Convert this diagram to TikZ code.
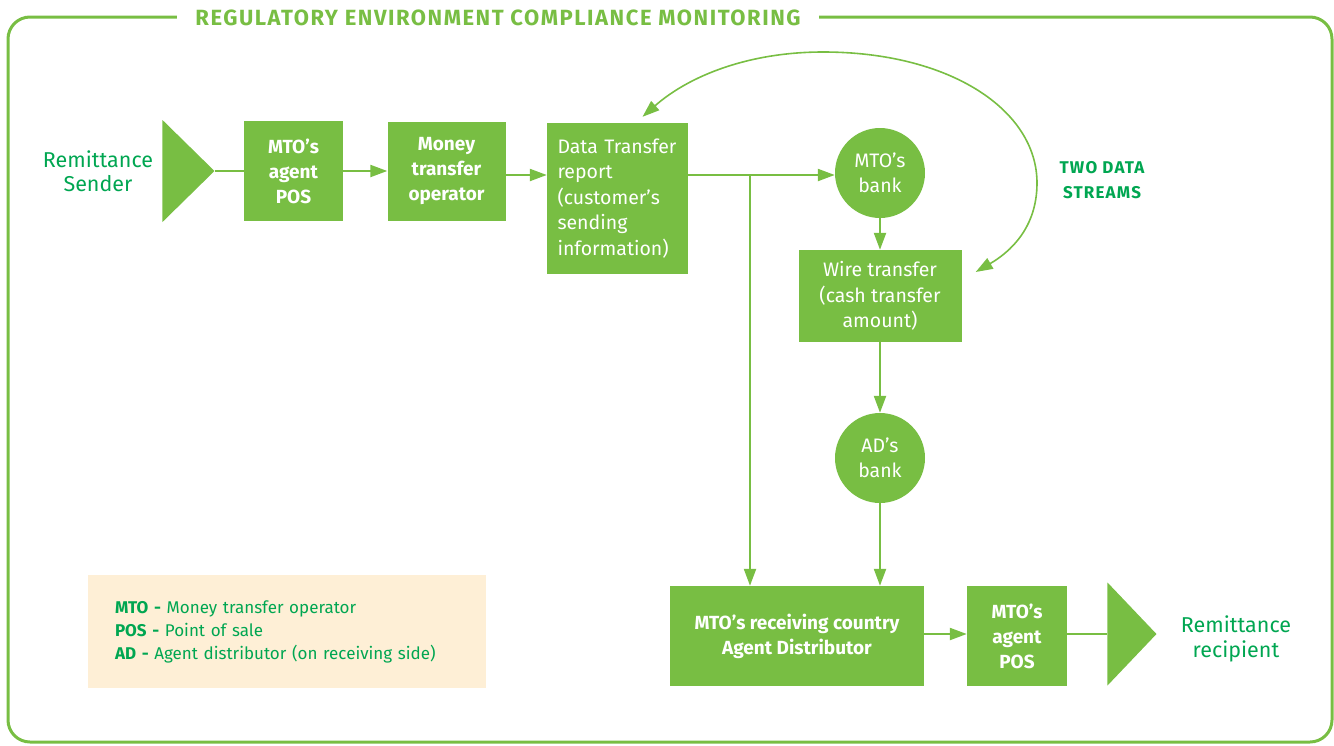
\documentclass[tikz,border=0pt]{standalone}
\usepackage{fontspec}
\setmainfont{Fira Sans}
\newfontfamily\headfont{Fira Sans}[LetterSpace=7]
\usetikzlibrary{positioning,shapes.geometric,arrows.meta}
\definecolor{mtogreen}{HTML}{78BE43}
\definecolor{darkgreen}{HTML}{00A651}
\definecolor{keycream}{HTML}{FEEFD6}

\begin{document}
\begin{tikzpicture}[x=1pt,y=-1pt,node distance=150pt,on grid,
  >={Triangle[length=17pt,width=12pt]},
  box/.style={fill=mtogreen,text=white,align=center,inner sep=0pt,
    font=\fontsize{19.5}{25.5}\selectfont},
  boldbox/.style={box,font=\bfseries\fontsize{19}{25}\selectfont},
  bank/.style={circle,fill=mtogreen,text=white,align=center,inner sep=0pt,
    minimum size=90pt,font=\fontsize{19.5}{25}\selectfont},
  arrowtri/.style={isosceles triangle,isosceles triangle stretches,
    fill=mtogreen,inner sep=0pt,minimum height=52pt,minimum width=102pt},
  sidetext/.style={text=darkgreen,align=center,font=\fontsize{21.5}{24.5}\selectfont},
  flow/.style={draw=mtogreen,line width=2.2pt,->},
  loopflow/.style={draw=mtogreen,line width=1.6pt,<->},
  frameline/.style={draw=mtogreen,line width=3pt,rounded corners=22pt}]
\useasboundingbox (0,0) rectangle (1334,745);

% frame and heading
\draw[frameline] (8,17) rectangle (1332,742);
\node[fill=white,inner xsep=18pt,text=mtogreen,font=\headfont\bfseries\fontsize{22}{24}\selectfont]
  (heading) at (498,18) {REGULATORY ENVIRONMENT COMPLIANCE MONITORING};

% sending side
\node[sidetext] (sender) at (98,171) {Remittance\\Sender};
\node[arrowtri,anchor=apex] (sendtri) at (215,171) {};
\node[boldbox,minimum width=99pt,minimum height=100pt]
  (agentA) at (293.5,171) {MTO’s\\agent\\POS};
\node[boldbox,minimum width=118pt,minimum height=99pt]
  (operator) [right=153pt of agentA] {Money\\transfer\\operator};
\node[box,align=left,text width=120pt,minimum width=141pt,minimum height=151pt]
  (datarep) at (617.5,198.5) {Data Transfer\\report\\(customer’s\\sending\\information)};

% banks
\node[bank] (mtobank) at (880,173) {MTO’s\\bank};
\node[box,minimum width=163pt,minimum height=92pt] (wire) [below=123pt of mtobank]
  {Wire transfer\\(cash transfer\\amount)};
\node[bank] (adbank) [below=162pt of wire] {AD’s\\bank};

% receiving side
\node[boldbox,minimum width=254pt,minimum height=100pt]
  (receiver) at (797,636) {MTO’s receiving country\\Agent Distributor};
\node[boldbox,minimum width=100pt,minimum height=100pt]
  (agentB) [right=220pt of receiver] {MTO’s\\agent\\POS};
\node[arrowtri,minimum height=49pt,minimum width=103pt,anchor=apex] (recvtri) at (1157,634) {};
\node[sidetext] (recipient) at (1236,639) {Remittance\\recipient};

\node[text=darkgreen,align=center,font=\headfont\bfseries\fontsize{17}{25}\selectfont]
  (streams) at (1102,180) {TWO DATA\\STREAMS};

% key
\node[fill=keycream,minimum width=398pt,minimum height=113pt,text width=344pt,
  align=left,inner sep=0pt,text=darkgreen,font=\fontsize{17}{23}\selectfont]
  (key) at (287,631.5) {{\bfseries MTO -} Money transfer operator\\
  {\bfseries POS -} Point of sale\\
  {\bfseries AD -} Agent distributor (on receiving side)};

% connectors
\coordinate (split) at (750,175);
\draw[flow,-] (sendtri.apex) -- (agentA.west);
\draw[flow] (agentA) -- (operator);
\draw[flow] (operator.east |- split) -- (datarep.west |- split);
\draw[flow] (datarep.east |- split) -- (mtobank.west |- split);
\draw[flow] (split) -- (split |- receiver.north);
\draw[flow] (mtobank) -- (wire);
\draw[flow] (wire) -- (adbank);
\draw[flow] (adbank) -- (adbank |- receiver.north);
\draw[flow] (receiver.east |- 0,634) -- (agentB.west |- 0,634);
\draw[flow,-] (agentB.east |- recvtri) -- (recvtri.west);
\draw[loopflow] ([xshift=25pt,yshift=6pt]datarep.north)
  .. controls (690,75) and (750,52) .. (823,52)
  .. controls (950,52) and (1037,110) .. (1037,183)
  .. controls (1037,228) and (1010,252) .. ([xshift=14pt,yshift=24pt]wire.east);
\end{tikzpicture}
\end{document}
